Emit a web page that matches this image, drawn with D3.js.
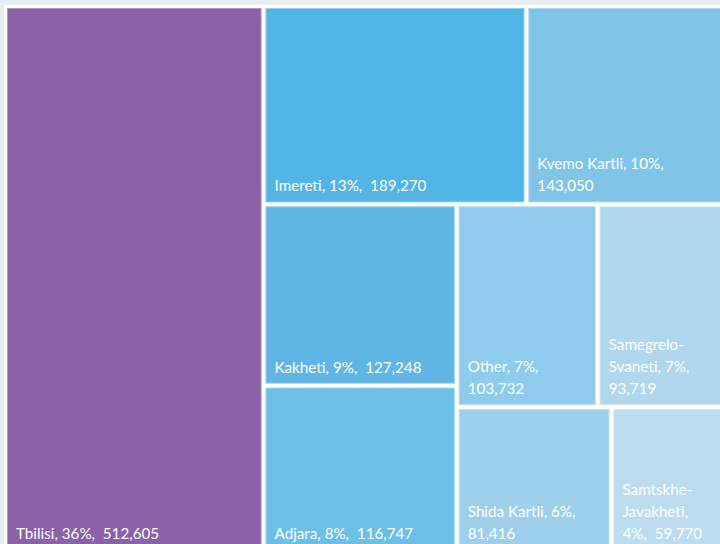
<!DOCTYPE html>
<html>
<head>
<meta charset="utf-8">
<script src="https://cdn.jsdelivr.net/npm/d3@7"></script>
<style>
  body { margin: 0; background: #e9eef2; }
  svg { display: block; }
</style>
</head>
<body>
<svg id="chart"></svg>
<script>
const width = 720, height = 544;

// regions and their counts (descending, same order as the original)
const regions = ["Tbilisi", "Imereti", "Kvemo Kartli", "Kakheti", "Adjara", "Other",
  "Samegrelo-Svaneti", "Shida Kartli", "Samtskhe-Javakheti"];
const counts = [512605, 189270, 143050, 127248, 116747, 103732, 93719, 81416, 59770];
const colors = ["#8b62a8", "#53b5e6", "#80c5e8", "#5fb6e4", "#6cc0e8", "#8ecbec",
  "#b0d7ee", "#9ed0ec", "#bcddf0"];
// label templates, \n = where the text wraps in the cell
const labelText = [
  "Tbilisi, {p},  {v}",
  "Imereti, {p},  {v}",
  "Kvemo Kartli, {p},\n{v}",
  "Kakheti, {p},  {v}",
  "Adjara, {p},  {v}",
  "Other, {p},\n{v}",
  "Samegrelo-\nSvaneti, {p},\n{v}",
  "Shida Kartli, {p},\n{v}",
  "Samtskhe-\nJavakheti,\n{p},  {v}"
];

const total = d3.sum(counts);
const fmtPct = d3.format(".0%"), fmtNum = d3.format(",");

const svg = d3.select("#chart")
  .attr("width", width)
  .attr("height", height);

// white chart area (extends past the window, like the cropped original)
svg.append("rect")
  .attr("x", 4).attr("y", 5)
  .attr("width", width + 20).attr("height", height + 20)
  .attr("fill", "#fff");

const root = d3.hierarchy({
  children: regions.map((r, i) => ({ name: r, value: counts[i], color: colors[i], label: labelText[i] }))
}).sum(d => d.children ? 0 : d.value);

d3.treemap()
  .tile(d3.treemapSquarify.ratio(1))
  .size([716, 542])
  .paddingInner(4)(root);

const g = svg.append("g").attr("transform", "translate(7,8)");

const cell = g.selectAll("g.cell")
  .data(root.leaves())
  .enter().append("g")
  .attr("class", "cell")
  .attr("transform", d => `translate(${d.x0},${d.y0})`);

cell.append("rect")
  .attr("width", d => d.x1 - d.x0)
  .attr("height", d => d.y1 - d.y0)
  .attr("fill", d => d.data.color);

// faint light edge inside each cell
cell.append("rect")
  .attr("x", 0.5).attr("y", 0.5)
  .attr("width", d => d.x1 - d.x0 - 1)
  .attr("height", d => d.y1 - d.y0 - 1)
  .attr("fill", "none")
  .attr("stroke", "#fff")
  .attr("stroke-opacity", 0.35);

cell.each(function(d) {
  const lines = d.data.label
    .replace("{p}", fmtPct(d.value / total))
    .replace("{v}", fmtNum(d.value))
    .split("\n");
  const h = d.y1 - d.y0;
  const txt = d3.select(this).append("text")
    .attr("fill", "#fff")
    .style("font-family", "Lato, 'Open Sans', sans-serif")
    .style("font-size", "15.2px")
    .style("white-space", "pre");
  lines.forEach((l, i) => {
    txt.append("tspan")
      .attr("x", 9)
      .attr("y", h - 11 - (lines.length - 1 - i) * 22)
      .text(l);
  });
});
</script>
</body>
</html>
